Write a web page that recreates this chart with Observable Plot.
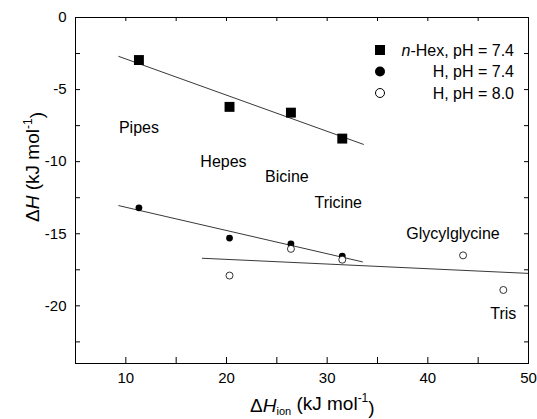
<!DOCTYPE html>
<html><head><meta charset="utf-8">
<script src="https://cdn.jsdelivr.net/npm/d3@7"></script>
<script src="https://cdn.jsdelivr.net/npm/@observablehq/plot@0.6"></script>
<style>body{margin:0;background:#fff} svg{display:block} #chart{width:537px;height:419px}</style>
</head><body><div id="chart"></div>
<script>
// Data
const hexX = [11.3, 20.3, 26.4, 31.5];
const hexY = [-2.95, -6.2, -6.6, -8.4];
const h74X = [11.3, 20.3, 26.4, 31.5];
const h74Y = [-13.2, -15.3, -15.7, -16.55];
const h80X = [20.3, 26.4, 31.5, 43.5, 47.5];
const h80Y = [-17.9, -16.05, -16.8, -16.5, -18.9];

// Fit lines as drawn (endpoints)
const fitHexX = [9.3, 33.6];
const fitHexY = [-2.7, -8.8];
const fitH74X = [9.3, 33.5];
const fitH74Y = [-13.05, -16.95];
const fitH80X = [17.6, 50];
const fitH80Y = [-16.7, -17.75];

// Buffer annotations
const buffers = ["Pipes", "Hepes", "Bicine", "Tricine", "Glycylglycine", "Tris"];
const bufX = [11.3, 19.7, 26.0, 31.1, 42.5, 47.5];
const bufY = [-7.65, -10.0, -11.05, -12.85, -15.0, -20.55];

// Tick values
const xTickLabels = [10, 20, 30, 40, 50];
const xTicks = [10, 15, 20, 25, 30, 35, 40, 45];
const yTickLabels = [0, -5, -10, -15, -20];
const yTicks = [-2.5, -5, -7.5, -10, -12.5, -15, -17.5, -20, -22.5];

const legendLabels = [["n", "-Hex, pH = 7.4"], ["", "H, pH = 7.4"], ["", "H, pH = 8.0"]];

const zip = (xs, ys) => xs.map((x, i) => ({x, y: ys[i]}));
const hex = zip(hexX, hexY), h74 = zip(h74X, h74Y), h80 = zip(h80X, h80Y);
const fits = [zip(fitHexX, fitHexY), zip(fitH74X, fitH74Y), zip(fitH80X, fitH80Y)];
const labels = buffers.map((t, i) => ({t, x: bufX[i], y: bufY[i]}));

const W = 537, H = 419, mL = 75, mR = 9, mT = 17, mB = 56;
const fw = W - mL - mR, fh = H - mT - mB;

const plot = Plot.plot({
  width: W, height: H,
  marginLeft: mL, marginRight: mR, marginTop: mT, marginBottom: mB,
  style: {fontFamily: "'Liberation Sans', Arial, sans-serif", color: "black", background: "white"},
  x: {domain: [5, 50], label: null},
  y: {domain: [-24, 0], label: null},
  marks: [
    Plot.ruleX(xTicks, {x: d => d, insetTop: fh - 6, stroke: "black"}),
    Plot.ruleX(xTicks, {x: d => d, insetBottom: fh - 4, stroke: "black"}),
    Plot.ruleY(yTicks, {y: d => d, insetRight: fw - 5, stroke: "black"}),
    Plot.ruleY(yTicks, {y: d => d, insetLeft: fw - 4, stroke: "black"}),
    Plot.axisX(xTickLabels, {tickSize: 0, tickPadding: 9, fontSize: 15, label: null}),
    Plot.axisY(yTickLabels, {tickSize: 0, tickPadding: 9, fontSize: 15, label: null, tickFormat: d => String(d)}),
    ...fits.map(f => Plot.line(f, {x: "x", y: "y", stroke: "#222", strokeWidth: 0.9})),
    Plot.text(labels, {x: "x", y: "y", text: "t", fontSize: 16, fill: "black"}),
    Plot.dot(hex, {x: "x", y: "y", symbol: "square", r: 5.6, fill: "black"}),
    Plot.dot(h74, {x: "x", y: "y", symbol: "circle", r: 3.4, fill: "black"}),
    Plot.dot(h80, {x: "x", y: "y", symbol: "circle", r: 3.5, fill: "white", stroke: "black", strokeWidth: 0.8}),
    Plot.frame({stroke: "black", strokeWidth: 1})
  ]
});
document.getElementById("chart").appendChild(plot);

const svg = d3.select(plot);
const ff = "'Liberation Sans', Arial, sans-serif";

// Legend
const ly = [50, 71.5, 93];
const lg = svg.append("g").attr("font-family", ff).attr("font-size", 16);
lg.append("rect").attr("x", 375).attr("y", ly[0] - 5).attr("width", 10).attr("height", 10).attr("fill", "black");
lg.append("circle").attr("cx", 380).attr("cy", ly[1]).attr("r", 5).attr("fill", "black");
lg.append("circle").attr("cx", 380).attr("cy", ly[2]).attr("r", 4.5).attr("fill", "white").attr("stroke", "black").attr("stroke-width", 1);
legendLabels.forEach(([it, rest], i) => {
  const t = lg.append("text").attr("x", 514).attr("y", ly[i]).attr("dy", "0.36em").attr("text-anchor", "end");
  if (it) t.append("tspan").attr("font-style", "italic").text(it);
  t.append("tspan").text(rest);
});

// Axis titles
const yt = svg.append("text").attr("font-family", ff).attr("font-size", 19)
  .attr("text-anchor", "middle").attr("transform", "translate(39,167) rotate(-90)");
yt.append("tspan").text("Δ");
yt.append("tspan").attr("font-style", "italic").text("H");
yt.append("tspan").text(" (kJ mol");
yt.append("tspan").attr("font-size", 12).attr("dy", "-0.6em").text("-1");
yt.append("tspan").attr("dy", "0.6em").text(")");

const xt = svg.append("text").attr("font-family", ff).attr("font-size", 19)
  .attr("text-anchor", "start").attr("x", 250).attr("y", 412);
xt.append("tspan").text("Δ");
xt.append("tspan").attr("font-style", "italic").text("H");
xt.append("tspan").attr("font-size", 11).attr("dy", "0.3em").text("ion");
xt.append("tspan").attr("dy", "-0.3em").text(" (kJ mol");
xt.append("tspan").attr("font-size", 12).attr("dy", "-0.6em").text("-1");
xt.append("tspan").attr("dy", "0.6em").text(")");
</script>
</body></html>
